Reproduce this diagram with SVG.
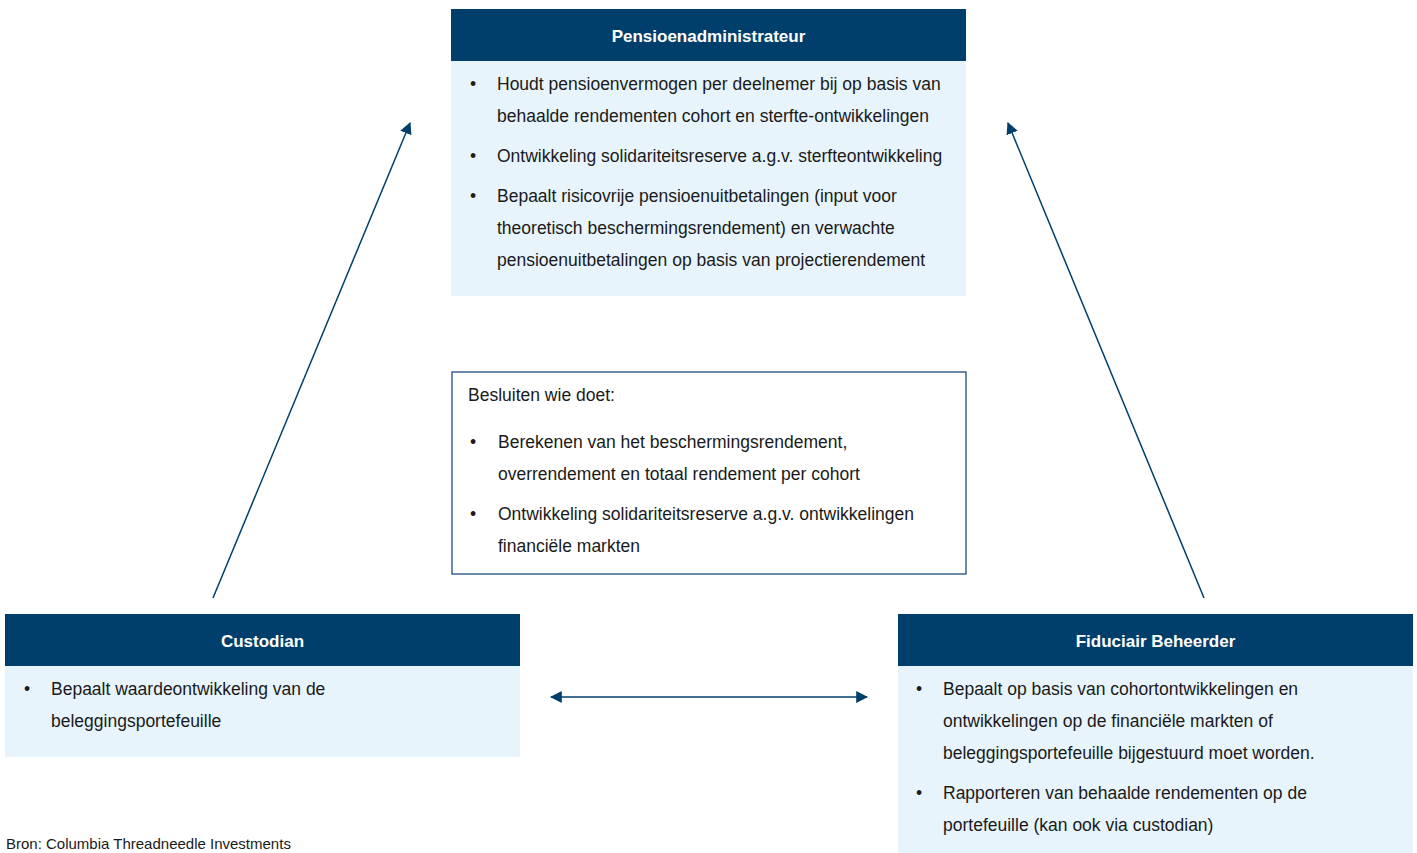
<svg xmlns="http://www.w3.org/2000/svg" width="1417" height="853" viewBox="0 0 1417 853">
<defs>
<style>
.hdr{fill:#003f6b}
.body{fill:#e8f4fc}
.t{font-family:"Liberation Sans Narrow","Liberation Sans",Arial,sans-serif;font-size:17.5px;fill:#1a1a1a}
.h{font-family:"Liberation Sans Narrow","Liberation Sans",Arial,sans-serif;font-size:17px;font-weight:bold;fill:#ffffff}
.src{font-family:"Liberation Sans Narrow","Liberation Sans",Arial,sans-serif;font-size:15px;fill:#1a1a1a}
.line{stroke:#003f6b;stroke-width:1.5;fill:none}
</style>
<marker id="ah" viewBox="0 0 10 10" refX="9" refY="5" markerWidth="12" markerHeight="12" markerUnits="userSpaceOnUse" orient="auto-start-reverse">
<path d="M0,0 L10,5 L0,10 z" fill="#003f6b"/>
</marker>
</defs>
<rect width="1417" height="853" fill="#ffffff"/>

<g id="pensioenadministrateur">
<rect class="hdr" x="451" y="9" width="515" height="52"/>
<rect class="body" x="451" y="61" width="515" height="235"/>
<text class="h" x="708.5" y="42" text-anchor="middle">Pensioenadministrateur</text>
<text class="t" x="470" y="90">•</text>
<text class="t" x="497" y="90">Houdt pensioenvermogen per deelnemer bij op basis van</text>
<text class="t" x="497" y="122">behaalde rendementen cohort en sterfte-ontwikkelingen</text>
<text class="t" x="470" y="162">•</text>
<text class="t" x="497" y="162">Ontwikkeling solidariteitsreserve a.g.v. sterfteontwikkeling</text>
<text class="t" x="470" y="202">•</text>
<text class="t" x="497" y="202">Bepaalt risicovrije pensioenuitbetalingen (input voor</text>
<text class="t" x="497" y="234">theoretisch beschermingsrendement) en verwachte</text>
<text class="t" x="497" y="266">pensioenuitbetalingen op basis van projectierendement</text>
</g>

<g id="besluiten">
<rect x="452" y="372" width="514" height="202" fill="#ffffff" stroke="#1f4f7f" stroke-width="1.3"/>
<text class="t" x="468" y="401">Besluiten wie doet:</text>
<text class="t" x="470" y="448">•</text>
<text class="t" x="498" y="448">Berekenen van het beschermingsrendement,</text>
<text class="t" x="498" y="480">overrendement en totaal rendement per cohort</text>
<text class="t" x="470" y="520">•</text>
<text class="t" x="498" y="520">Ontwikkeling solidariteitsreserve a.g.v. ontwikkelingen</text>
<text class="t" x="498" y="552">financiële markten</text>
</g>

<g id="custodian">
<rect class="hdr" x="5" y="614" width="515" height="52"/>
<rect class="body" x="5" y="666" width="515" height="91"/>
<text class="h" x="262.5" y="647" text-anchor="middle">Custodian</text>
<text class="t" x="24" y="695">•</text>
<text class="t" x="51" y="695">Bepaalt waardeontwikkeling van de</text>
<text class="t" x="51" y="727">beleggingsportefeuille</text>
</g>

<g id="fiduciair">
<rect class="hdr" x="898" y="614" width="515" height="52"/>
<rect class="body" x="898" y="666" width="515" height="187"/>
<text class="h" x="1155.5" y="647" text-anchor="middle">Fiduciair Beheerder</text>
<text class="t" x="916" y="695">•</text>
<text class="t" x="943" y="695">Bepaalt op basis van cohortontwikkelingen en</text>
<text class="t" x="943" y="727">ontwikkelingen op de financiële markten of</text>
<text class="t" x="943" y="759">beleggingsportefeuille bijgestuurd moet worden.</text>
<text class="t" x="916" y="799">•</text>
<text class="t" x="943" y="799">Rapporteren van behaalde rendementen op de</text>
<text class="t" x="943" y="831">portefeuille (kan ook via custodian)</text>
</g>

<g id="connectors">
<line class="line" x1="213" y1="598" x2="410" y2="123" marker-end="url(#ah)"/>
<line class="line" x1="1204" y1="598" x2="1008" y2="123" marker-end="url(#ah)"/>
<line class="line" x1="551" y1="697" x2="867" y2="697" marker-start="url(#ah)" marker-end="url(#ah)"/>
</g>

<text class="src" x="6" y="849">Bron: Columbia Threadneedle Investments</text>
</svg>
